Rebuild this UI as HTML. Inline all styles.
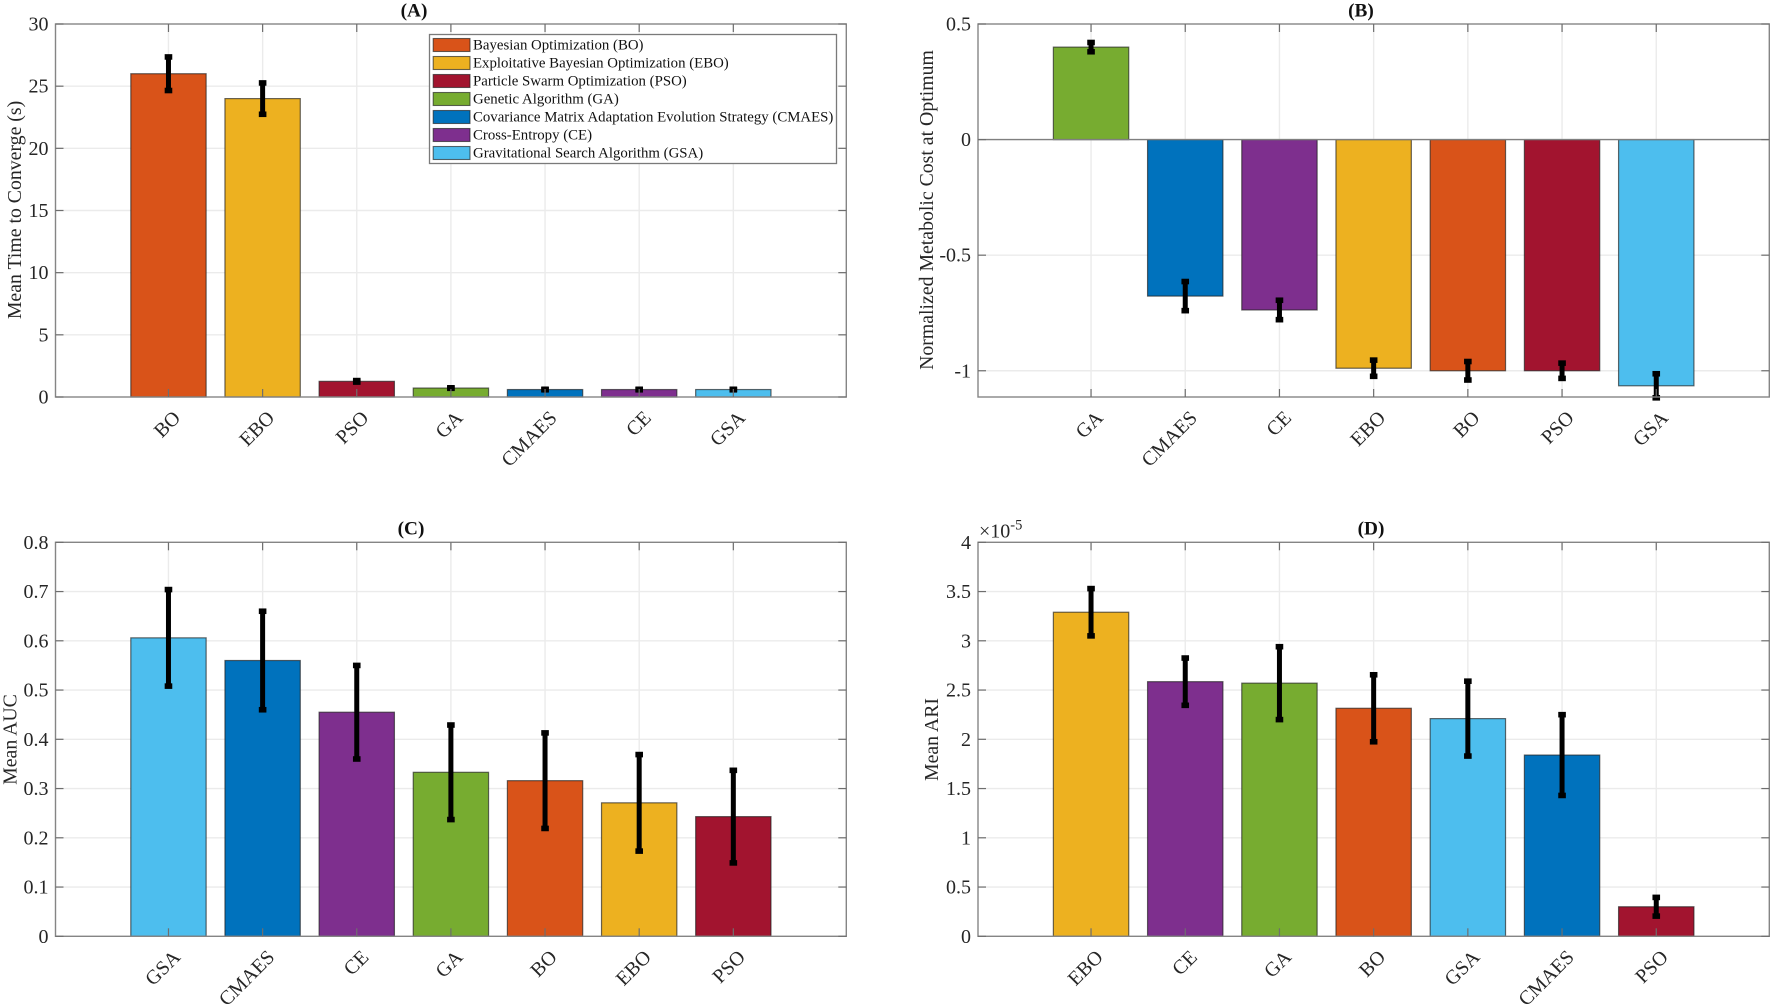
<!DOCTYPE html>
<html lang="en">
<head>
<meta charset="utf-8">
<title>Optimization Algorithm Comparison</title>
<style>
html,body{margin:0;padding:0;background:#fff;width:1772px;height:1004px;overflow:hidden}
svg{display:block;filter:blur(.35px)}
text{font-family:"Liberation Serif",serif;fill:#262626}
.tick{font-size:20px}
.ylab{font-size:19.8px;text-anchor:middle}
.ttl{font-size:19.3px;font-weight:bold;text-anchor:middle;fill:#111}
.leg{font-size:14.83px;fill:#111}
</style>
</head>
<body>
<svg id="figure" xmlns="http://www.w3.org/2000/svg" width="1772" height="1004" viewBox="0 0 1772 1004">
  <rect width="1772" height="1004" fill="#fff"/>
  <g id="panelA"></g>
  <g id="panelB"></g>
  <g id="panelC"></g>
  <g id="panelD"></g>
  <text class="ttl" x="414" y="16.5">(A)</text>
  <text class="ttl" x="1361" y="16.5">(B)</text>
  <text class="ttl" x="411" y="534.5">(C)</text>
  <text class="ttl" x="1371" y="534.5">(D)</text>
  <text class="ylab" transform="translate(21,210) rotate(-90)">Mean Time to Converge (s)</text>
  <text class="ylab" transform="translate(933,210) rotate(-90)">Normalized Metabolic Cost at Optimum</text>
  <text class="ylab" transform="translate(16.5,739.5) rotate(-90)">Mean AUC</text>
  <text class="ylab" transform="translate(938,739.5) rotate(-90)">Mean ARI</text>
  <text class="tick" x="979" y="537.5">×10<tspan font-size="14.5" dy="-8">-5</tspan></text>
  <g id="legend"></g>
</svg>
<script>
// ---- Panel A data ----
const categoriesA = ["BO","EBO","PSO","GA","CMAES","CE","GSA"];
const valuesA = [26.0,24.0,1.26,0.72,0.6,0.6,0.6];
const errorsA = [1.35,1.26,0.06,0.02,0.02,0.02,0.02];
const yTicksA = [0,5,10,15,20,25,30];
const yTickLabelsA = ["0","5","10","15","20","25","30"];
// ---- Panel B data ----
const categoriesB = ["GA","CMAES","CE","EBO","BO","PSO","GSA"];
const valuesB = [0.40,-0.677,-0.737,-0.989,-1.0,-1.0,-1.065];
const errorsB = [0.02,0.063,0.042,0.035,0.04,0.033,0.052];
const yTicksB = [-1,-0.5,0,0.5];
const yTickLabelsB = ["-1","-0.5","0","0.5"];
// ---- Panel C data ----
const categoriesC = ["GSA","CMAES","CE","GA","BO","EBO","PSO"];
const valuesC = [0.606,0.56,0.455,0.333,0.316,0.271,0.243];
const errorsC = [0.098,0.1,0.095,0.096,0.097,0.098,0.094];
const yTicksC = [0,0.1,0.2,0.3,0.4,0.5,0.6,0.7,0.8];
const yTickLabelsC = ["0","0.1","0.2","0.3","0.4","0.5","0.6","0.7","0.8"];
// ---- Panel D data (x 1e-5) ----
const categoriesD = ["EBO","CE","GA","BO","GSA","CMAES","PSO"];
const valuesD = [3.29,2.585,2.57,2.315,2.21,1.84,0.30];
const errorsD = [0.24,0.24,0.37,0.34,0.38,0.41,0.095];
const yTicksD = [0,0.5,1,1.5,2,2.5,3,3.5,4];
const yTickLabelsD = ["0","0.5","1","1.5","2","2.5","3","3.5","4"];
// ---- Legend data ----
const legendKeys = ["BO","EBO","PSO","GA","CMAES","CE","GSA"];
const legendLabels = [
  "Bayesian Optimization (BO)",
  "Exploitative Bayesian Optimization (EBO)",
  "Particle Swarm Optimization (PSO)",
  "Genetic Algorithm (GA)",
  "Covariance Matrix Adaptation Evolution Strategy (CMAES)",
  "Cross-Entropy (CE)",
  "Gravitational Search Algorithm (GSA)"
];

const palette = {BO:"#D95319",EBO:"#EDB120",PSO:"#A2142F",GA:"#77AC30",CMAES:"#0072BD",CE:"#7E2F8E",GSA:"#4DBEEE"};
const NS = "http://www.w3.org/2000/svg";

function make(parent, tag, attrs, text) {
  const node = document.createElementNS(NS, tag);
  for (const k in attrs) node.setAttribute(k, attrs[k]);
  if (text !== undefined) node.textContent = text;
  parent.appendChild(node);
  return node;
}

function drawPanel(cfg) {
  const g = document.getElementById(cfg.id);
  const {left, right, top, bottom, yMin, yMax, xMin, xMax} = cfg;
  const xScale = v => left + (v - xMin) / (xMax - xMin) * (right - left);
  const yScale = v => bottom - (v - yMin) / (yMax - yMin) * (bottom - top);
  const positions = cfg.categories.map((_, i) => i + 1);

  // grid
  cfg.yTicks.forEach(t => {
    if (t === yMin || t === yMax) return;
    const line = make(g, "line", {x1:left, x2:right, y1:yScale(t), y2:yScale(t), stroke:"#ebebeb", "stroke-width":1.4});
    
    
  });
  positions.forEach(p => {
    const line = make(g, "line", {x1:xScale(p), x2:xScale(p), y1:top, y2:bottom, stroke:"#ebebeb", "stroke-width":1.4});
    
    
  });

  // bars
  const base = yScale(0);
  cfg.values.forEach((v, i) => {
    const x = xScale(positions[i]);
    const y = yScale(v);
    const bar = make(g, "rect", {
      x: x - 0.4 * (xScale(1) - xScale(0)),
      width: 0.8 * (xScale(1) - xScale(0)),
      y: Math.min(y, base),
      height: Math.abs(base - y),
      fill: palette[cfg.categories[i]],
      stroke: "rgba(30,30,30,.66)",
      "stroke-width": 1.2
    });
    
    
  });

  // baseline for data crossing zero
  if (yMin < 0) {
    const zero = make(g, "line", {x1:left, x2:right, y1:base, y2:base, stroke:"#7f7f7f", "stroke-width":1.3});
    
    
  }

  // error bars
  cfg.values.forEach((v, i) => {
    const x = xScale(positions[i]);
    const hi = yScale(v + cfg.errors[i]);
    const lo = yScale(v - cfg.errors[i]);
    const stem = make(g, "line", {x1:x, x2:x, y1:hi, y2:lo, stroke:"#000", "stroke-width":5});
    
    
    const capHi = make(g, "rect", {x:x - 3.8, width:7.6, y:hi - 2.8, height:5.6, fill:"#000"});
    
    
    const capLo = make(g, "rect", {x:x - 3.8, width:7.6, y:lo - 2.8, height:5.6, fill:"#000"});
    
    
  });

  // frame and ticks
  const frame = make(g, "rect", {x:left, y:top, width:right - left, height:bottom - top, fill:"none", stroke:"#858585", "stroke-width":1.4});
  
  

  positions.forEach((p, i) => {
    const x = xScale(p);
    const tb = make(g, "line", {x1:x, x2:x, y1:bottom, y2:bottom - 8, stroke:"#6e6e6e", "stroke-width":1.2});
    
    
    const tt = make(g, "line", {x1:x, x2:x, y1:top, y2:top + 8, stroke:"#6e6e6e", "stroke-width":1.2});
    
    
    const lab = make(g, "text", {class:"tick", "text-anchor":"end", transform:"translate(" + (x + 13) + "," + (bottom + 22) + ") rotate(-45)"}, cfg.categories[i]);
    
    
  });

  cfg.yTicks.forEach((t, i) => {
    const y = yScale(t);
    const tl = make(g, "line", {x1:left, x2:left + 8, y1:y, y2:y, stroke:"#6e6e6e", "stroke-width":1.2});
    
    
    const tr = make(g, "line", {x1:right, x2:right - 8, y1:y, y2:y, stroke:"#6e6e6e", "stroke-width":1.2});
    
    
    const lab = make(g, "text", {class:"tick", "text-anchor":"end", x:left - 7, y:y + 6.5}, cfg.yTickLabels[i]);
    
    
  });
}

drawPanel({id:"panelA", left:55.5, right:846.3, top:24, bottom:397, xMin:-0.2, xMax:8.2, yMin:0, yMax:30,
  categories:categoriesA, values:valuesA, errors:errorsA, yTicks:yTicksA, yTickLabels:yTickLabelsA});
drawPanel({id:"panelB", left:978, right:1769.3, top:24, bottom:397, xMin:-0.2, xMax:8.2, yMin:-1.1135, yMax:0.5,
  categories:categoriesB, values:valuesB, errors:errorsB, yTicks:yTicksB, yTickLabels:yTickLabelsB});
drawPanel({id:"panelC", left:55.5, right:846.3, top:542.3, bottom:936.3, xMin:-0.2, xMax:8.2, yMin:0, yMax:0.8,
  categories:categoriesC, values:valuesC, errors:errorsC, yTicks:yTicksC, yTickLabels:yTickLabelsC});
drawPanel({id:"panelD", left:978, right:1769.3, top:542.3, bottom:936.3, xMin:-0.2, xMax:8.2, yMin:0, yMax:4,
  categories:categoriesD, values:valuesD, errors:errorsD, yTicks:yTicksD, yTickLabels:yTickLabelsD});

// legend
(function () {
  const g = document.getElementById("legend");
  const box = make(g, "rect", {x:429.5, y:34.5, width:407, height:129, fill:"#fff", stroke:"#7a7a7a", "stroke-width":1.3});
  
  
  legendLabels.forEach((label, i) => {
    const y = 38.5 + i * 18;
    const sw = make(g, "rect", {x:433.2, y:y, width:36.8, height:13, fill:palette[legendKeys[i]], stroke:"rgba(30,30,30,.66)", "stroke-width":1.1});
    
    
    const tx = make(g, "text", {class:"leg", x:473, y:y + 11.2}, label);
    
    
  });
})();
</script>
</body>
</html>
